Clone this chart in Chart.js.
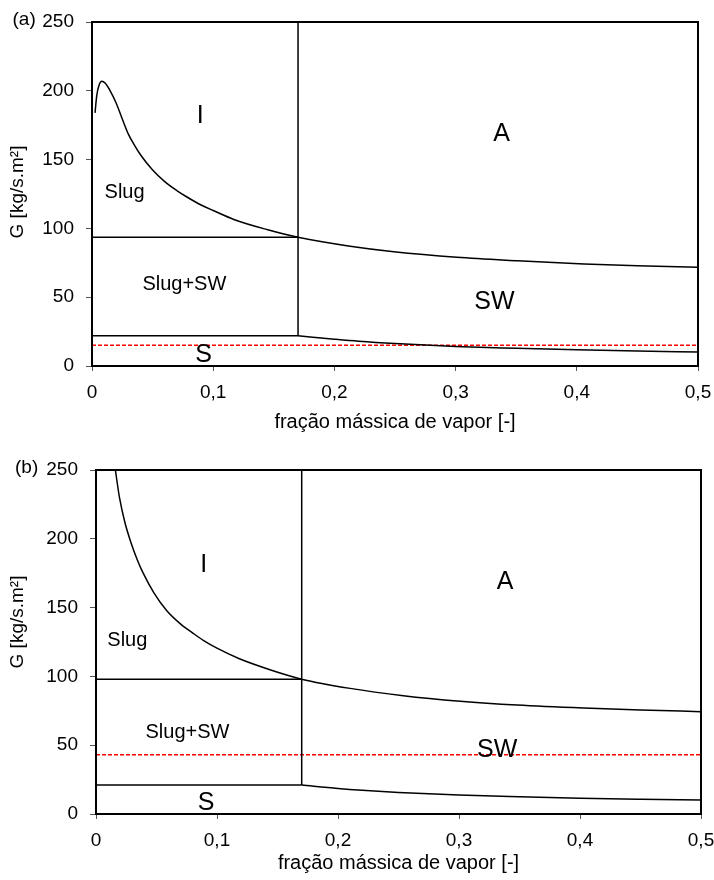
<!DOCTYPE html>
<html><head><meta charset="utf-8">
<script src="https://cdn.jsdelivr.net/npm/chart.js@4.4.1/dist/chart.umd.min.js"></script>
<style>
html,body{margin:0;padding:0;background:#fff;}
#wrap{position:relative;width:714px;height:880px;overflow:hidden;}
.box{position:absolute;left:0;width:714px;height:440px;}
canvas{display:block;}
</style></head><body>
<div id="wrap">
<div class="box" style="top:0"><canvas id="ca" width="714" height="440"></canvas></div>
<div class="box" style="top:440px"><canvas id="cb" width="714" height="440"></canvas></div>
</div>
<script>
// ---------- shared axis data ----------
const xTicks = [0, 0.1, 0.2, 0.3, 0.4, 0.5];
const xTickLabels = ['0', '0,1', '0,2', '0,3', '0,4', '0,5'];
const gTicks = [0, 50, 100, 150, 200, 250];
const xTitle = 'fração mássica de vapor [-]';
const gTitle = 'G [kg/s.m²]';
const regionNames = ['I', 'A', 'Slug', 'Slug+SW', 'SW', 'S'];

// ---------- panel (a) ----------
const aUpperX = [0.0025, 0.004, 0.006, 0.008, 0.011, 0.015, 0.02, 0.025, 0.03, 0.035, 0.04, 0.05, 0.06, 0.07, 0.078, 0.09, 0.1, 0.117, 0.145, 0.17, 0.213, 0.249, 0.301, 0.351, 0.406, 0.45, 0.5];
const aUpperG = [184, 197, 204.5, 207, 205.5, 200, 191, 179.5, 168.5, 160.5, 153.5, 142.4, 134, 127.5, 123, 117, 113, 106.5, 99, 93.5, 87, 83, 79, 76.5, 74.2, 72.8, 71.7];
const aLowerX = [0.17, 0.2, 0.22, 0.25, 0.3, 0.35, 0.4, 0.45, 0.5];
const aLowerG = [22, 19.5, 18, 16.3, 14.2, 12.9, 11.8, 10.9, 10.2];
const aSlugX = [0, 0.17];
const aSlugG = [93.5, 93.5];
const aStratX = [0, 0.17];
const aStratG = [22, 22];
const aTransX = [0.17, 0.17];
const aTransG = [22, 250];
const aTestX = [0, 0.5];
const aTestG = [15, 15];
const aLabelX = [0.0893, 0.338, 0.0269, 0.0762, 0.332, 0.092];
const aLabelG = [181.7, 168.5, 126.1, 59.2, 46.1, 8.2];

// ---------- panel (b) ----------
const bUpperX = [0.016, 0.0195, 0.024, 0.029, 0.034, 0.039, 0.048, 0.0587, 0.07, 0.08, 0.089, 0.1, 0.118, 0.145, 0.17, 0.21, 0.254, 0.301, 0.348, 0.403, 0.45, 0.5];
const bUpperG = [250, 229.5, 211.5, 197, 185, 175, 160.5, 147.5, 138, 131.5, 126, 120.5, 113, 104.5, 98, 91.3, 86, 82, 79.2, 77, 75.6, 74.4];
const bLowerX = [0.17, 0.2, 0.22, 0.25, 0.3, 0.35, 0.4, 0.45, 0.5];
const bLowerG = [21, 18.5, 17.2, 15.7, 13.8, 12.5, 11.4, 10.7, 10.2];
const bSlugX = [0, 0.17];
const bSlugG = [98, 98];
const bStratX = [0, 0.17];
const bStratG = [21, 21];
const bTransX = [0.17, 0.17];
const bTransG = [21, 250];
const bTestX = [0, 0.5];
const bTestG = [43, 43];
const bLabelX = [0.089, 0.338, 0.0259, 0.0756, 0.3315, 0.091];
const bLabelG = [181.2, 168.6, 125.9, 59.4, 46.1, 8.1];

// ---------- helpers ----------
const FONT = '"Liberation Sans", Arial, Helvetica, sans-serif';
const labelSizes = [25, 25, 20, 20, 25, 25];
const pts = (xs, ys) => xs.map((x, i) => ({x: x, y: ys[i]}));

const overlay = {
  id: 'overlay',
  afterDatasetsDraw(chart, args, o) {
    const {ctx, chartArea: ca, scales} = chart;
    ctx.save();
    ctx.strokeStyle = '#000';
    ctx.lineWidth = 2;
    ctx.strokeRect(ca.left, ca.top, ca.right - ca.left, ca.bottom - ca.top);
    ctx.fillStyle = '#000';
    ctx.textAlign = 'center';
    ctx.textBaseline = 'middle';
    regionNames.forEach((t, i) => {
      ctx.font = labelSizes[i] + 'px ' + FONT;
      ctx.fillText(t, scales.x.getPixelForValue(o.lx[i]), scales.y.getPixelForValue(o.lg[i]));
    });
    ctx.textAlign = 'left';
    ctx.font = '19px ' + FONT;
    ctx.fillText(o.tag, o.tagX, o.tagY);
    ctx.translate(o.yTitleX, (ca.top + ca.bottom) / 2 + o.yTitleShift);
    ctx.rotate(-Math.PI / 2);
    ctx.textAlign = 'center';
    ctx.font = '19px ' + FONT;
    ctx.fillText(gTitle, 0, 0);
    ctx.restore();
  }
};

function line(data, color, width, dash, smooth) {
  return {
    data: data, showLine: true, borderColor: color, backgroundColor: color,
    borderWidth: width, borderDash: dash || [], pointRadius: 0, pointHoverRadius: 0,
    fill: false, cubicInterpolationMode: smooth ? 'monotone' : 'default', tension: 0
  };
}

function makeChart(id, g) {
  return new Chart(document.getElementById(id), {
    type: 'scatter',
    data: {
      datasets: [
        line(pts(g.upX, g.upG), '#000', 1.5, null, true),
        line(pts(g.loX, g.loG), '#000', 1.5, null, true),
        line(pts(g.slX, g.slG), '#000', 1.5),
        line(pts(g.stX, g.stG), '#000', 1.5),
        line(pts(g.trX, g.trG), '#000', 1.5),
        line(pts(g.teX, g.teG), '#ff0000', 1.5, [4, 2])
      ]
    },
    options: {
      responsive: false,
      animation: false,
      events: [],
      layout: {padding: {top: g.padTop, right: g.padRight, left: 0, bottom: 0}},
      plugins: {
        legend: {display: false}, tooltip: {enabled: false}, title: {display: false},
        overlay: {lx: g.lx, lg: g.lg, tag: g.tag, tagX: g.tagX, tagY: g.tagY, yTitleX: 17.5, yTitleShift: g.yShift}
      },
      scales: {
        x: {
          type: 'linear', min: 0, max: 0.5,
          afterBuildTicks: s => { s.ticks = xTicks.map(v => ({value: v})); },
          afterFit: s => { s.height = g.xH; s.paddingLeft = 0; s.paddingRight = 0; },
          ticks: {
            autoSkip: false, maxRotation: 0, padding: 10, color: '#000',
            font: {family: FONT, size: 19},
            callback: (v, i) => xTickLabels[i]
          },
          grid: {display: true, drawOnChartArea: false, drawTicks: true, tickLength: 5, color: '#555', lineWidth: 1},
          border: {display: true, color: '#000', width: 2},
          title: {display: true, text: xTitle, color: '#000', font: {family: FONT, size: 20}, padding: {top: 0, bottom: g.xTitlePad}}
        },
        y: {
          type: 'linear', min: 0, max: 250,
          afterBuildTicks: s => { s.ticks = gTicks.map(v => ({value: v})); },
          afterFit: s => { s.width = g.yW; s.paddingTop = 0; s.paddingBottom = 0; },
          ticks: {padding: 12, color: '#000', font: {family: FONT, size: 19}, callback: v => String(v)},
          grid: {display: true, drawOnChartArea: false, drawTicks: true, tickLength: 6, color: '#555', lineWidth: 1},
          border: {display: true, color: '#000', width: 2},
          title: {display: false}
        }
      }
    },
    plugins: [overlay]
  });
}

makeChart('ca', {
  upX: aUpperX, upG: aUpperG, loX: aLowerX, loG: aLowerG, slX: aSlugX, slG: aSlugG,
  stX: aStratX, stG: aStratG, trX: aTransX, trG: aTransG, teX: aTestX, teG: aTestG,
  lx: aLabelX, lg: aLabelG, tag: '(a)', tagX: 12.5, tagY: 20, yShift: -2,
  padTop: 22, padRight: 16, yW: 92, xH: 74, xTitlePad: 6
});
makeChart('cb', {
  upX: bUpperX, upG: bUpperG, loX: bLowerX, loG: bLowerG, slX: bSlugX, slG: bSlugG,
  stX: bStratX, stG: bStratG, trX: bTransX, trG: bTransG, teX: bTestX, teG: bTestG,
  lx: bLabelX, lg: bLabelG, tag: '(b)', tagX: 15, tagY: 28, yShift: -20,
  padTop: 30, padRight: 13, yW: 96, xH: 66, xTitlePad: 5
});
</script>
</body></html>
